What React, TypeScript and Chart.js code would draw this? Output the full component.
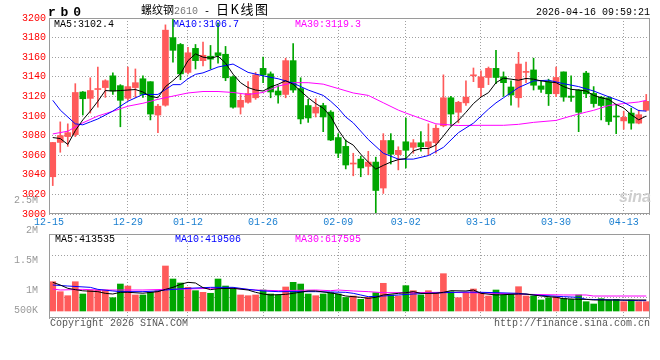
import React, { useEffect, useRef } from "react";
import { Chart, registerables } from "chart.js";

Chart.register(...registerables);

// ---------- data ----------
const OPEN = [
  3038, 3073, 3079, 3081, 3124.5, 3118, 3127, 3129, 3141, 3131,
  3118, 3129, 3138, 3135, 3101, 3111, 3180, 3173, 3144.5, 3169,
  3156.5, 3161, 3164.5, 3163, 3140, 3109, 3114, 3118.6, 3148.6, 3143,
  3125.5, 3122, 3156.5, 3128, 3110.7, 3103, 3110.7, 3104, 3078, 3069,
  3051, 3056, 3048.6, 3053, 3026.5, 3075, 3060.6, 3073.7, 3068, 3072.7,
  3068.6, 3072.7, 3090, 3118.6, 3103.8, 3113.4, 3141, 3129, 3139.3, 3148.6,
  3140, 3129.6, 3118.6, 3144.5, 3147, 3130.7, 3135, 3122.7, 3145, 3120.3,
  3126.5, 3143.8, 3123, 3119.3, 3118.6, 3100, 3095, 3103, 3092.7, 3105.8,
];
const HIGH = [
  3073, 3094, 3092, 3133, 3125, 3139, 3150, 3137, 3144, 3132,
  3150, 3148, 3141, 3135, 3112, 3193, 3199, 3174, 3170, 3173,
  3175.5, 3172, 3195, 3171, 3141, 3122, 3135, 3144.5, 3160, 3145,
  3131, 3159, 3174, 3139, 3117, 3117.6, 3113, 3105.5, 3082, 3075.5,
  3062, 3059, 3064, 3058, 3082, 3082, 3068.6, 3098, 3076, 3084,
  3092, 3091, 3142, 3120, 3115, 3136, 3149, 3146, 3150, 3167,
  3145, 3136, 3165, 3155, 3159, 3136, 3137.6, 3150, 3145, 3141,
  3127, 3145.5, 3130, 3120, 3120, 3112, 3105, 3108, 3106, 3122,
];
const LOW = [
  3029, 3063, 3069, 3079, 3101, 3103, 3109, 3119, 3122, 3089,
  3116, 3119, 3119, 3096, 3083, 3110, 3155, 3137, 3143, 3148,
  3151, 3148, 3154, 3136, 3108, 3102, 3113, 3117, 3134, 3118.6,
  3113, 3118.6, 3124, 3092, 3093.5, 3099, 3084, 3074.8, 3057.5, 3046,
  3039, 3038, 3040, 3001, 3021, 3051, 3045, 3047, 3062, 3064,
  3060, 3062, 3089, 3090, 3093, 3110.7, 3135, 3120, 3132, 3133,
  3120, 3111, 3109, 3134, 3126.5, 3124, 3110.7, 3119.6, 3115, 3115,
  3084, 3118.6, 3109, 3096, 3091, 3082, 3086.5, 3086.5, 3092, 3105,
];
const CLOSE = [
  3073, 3080, 3083, 3124, 3117.6, 3126, 3128, 3136, 3125.5, 3116,
  3130, 3134, 3122, 3102, 3110, 3187.6, 3167, 3143, 3164.5, 3156.5,
  3162, 3158, 3161.7, 3139, 3109, 3116, 3123, 3142, 3142, 3124.5,
  3121.4, 3156.5, 3126.5, 3097, 3098, 3109, 3099, 3075.5, 3062, 3050,
  3052, 3047, 3053, 3024, 3075, 3061, 3065, 3065, 3072.7, 3068.6,
  3073.7, 3087.5, 3118.6, 3102, 3114, 3119.3, 3142, 3140, 3148.6, 3139.3,
  3134, 3121.4, 3153, 3145.5, 3131.4, 3127.2, 3122.7, 3139.3, 3119.3, 3119,
  3103.8, 3122.7, 3112.7, 3110.7, 3094.4, 3099, 3098.6, 3092.7, 3101.3, 3115,
];
const VOLUME = [
  1150000, 985000, 919000, 1150000, 947000, 1013000, 1013000, 1013000, 886000, 1112000,
  1079000, 931000, 931000, 975000, 1002000, 1410000, 1195000, 1129000, 1057000, 1002000,
  975000, 959000, 1195000, 1079000, 1041000, 931000, 919000, 931000, 1013000, 947000,
  931000, 1063000, 1140000, 1112000, 947000, 919000, 947000, 970000, 947000, 890000,
  914000, 859000, 893000, 969000, 1124000, 931000, 914000, 1085000, 1002000, 931000,
  1002000, 959000, 1283000, 985000, 886000, 969000, 1030000, 969000, 914000, 1013000,
  931000, 947000, 1068000, 914000, 914000, 848000, 886000, 903000, 876000, 859000,
  931000, 820000, 782000, 870000, 848000, 859000, 820000, 848000, 820000, 820000,
];
const MA5 = [
  3078, 3077, 3071, 3085, 3096, 3105, 3115, 3126, 3125.5, 3126,
  3126.5, 3127, 3124.5, 3120, 3118.6, 3130, 3136, 3143, 3156.5, 3163.4,
  3160, 3159, 3161, 3154, 3142.7, 3134, 3129, 3126.5, 3125.5, 3129.6,
  3132.4, 3136, 3132.4, 3125.5, 3118.6, 3112.7, 3108, 3099.6, 3085.8, 3074.8,
  3070.3, 3061, 3053, 3045.8, 3049.6, 3053, 3055.5, 3056.5, 3064.4, 3066.8,
  3066.8, 3070.3, 3079.6, 3089.3, 3095.5, 3103.8, 3112.7, 3119.3, 3123.8, 3134,
  3138.6, 3137.6, 3136.5, 3138.3, 3137.6, 3135.8, 3134.8, 3134, 3130, 3127.2,
  3126.5, 3125.5, 3121, 3118.6, 3116.9, 3111.7, 3108.2, 3101.3, 3096.1, 3100,
];
const MA10: [number, number][] = [
  [0, 3116], [1, 3106], [3, 3092], [4, 3091], [5, 3094], [6, 3097], [8, 3105], [10, 3115],
  [12, 3122], [14, 3122], [15, 3127], [16, 3132], [17, 3132], [18, 3138], [19, 3142.5],
  [20, 3144], [22, 3150], [24, 3153], [26, 3144.5], [28, 3141], [30, 3138], [32, 3133.5],
  [34, 3126.5], [36, 3121], [37, 3115], [38, 3108], [39, 3099], [40, 3093], [42, 3076],
  [44, 3062], [46, 3056], [48, 3056], [50, 3059.6], [52, 3068], [54, 3083], [56, 3092.7],
  [58, 3107], [59, 3113.4], [60, 3118.6], [62, 3129], [64, 3135.8], [66, 3136.5], [68, 3133],
  [70, 3130], [72, 3125.5], [74, 3119.6], [76, 3114], [78, 3105.5], [79, 3105],
];
const MA30: [number, number][] = [
  [0, 3081.7], [2, 3084.5], [4, 3093], [6, 3100], [8, 3104.8], [10, 3110], [12, 3113],
  [14, 3117], [16, 3120.3], [18, 3123.5], [20, 3125], [22, 3125], [24, 3124], [26, 3122],
  [28, 3124], [30, 3130.5], [32, 3134], [34, 3134], [36, 3132.5], [38, 3128], [40, 3123.5],
  [42, 3121], [44, 3113.5], [46, 3106], [47, 3103], [49, 3097.5], [51, 3092], [54, 3090.3],
  [57, 3090.5], [60, 3090.5], [62, 3091.5], [64, 3093.5], [67, 3095.5], [69, 3100], [71, 3104],
  [72, 3105.8], [74, 3110.7], [76, 3112.7], [78, 3114.3], [79, 3116],
];
const VMA5: [number, number][] = [
  [0, 1140000], [1, 1096000], [2, 1041000], [3, 1019000], [4, 1000000], [6, 986000], [7, 958000],
  [8, 947000], [9, 975000], [10, 975000], [12, 960000], [14, 986000], [15, 1024000], [16, 1057000],
  [17, 1107000], [18, 1140000], [19, 1129000], [20, 1052000], [21, 1019000], [22, 1035000],
  [24, 1041000], [26, 1013000], [27, 975000], [28, 947000], [29, 931000], [31, 941000],
  [32, 958000], [34, 997000], [35, 997000], [37, 965000], [38, 945000], [39, 914000], [41, 892000],
  [42, 875000], [43, 892000], [44, 931000], [46, 958000], [47, 969000], [48, 986000], [49, 958000],
  [51, 958000], [52, 975000], [53, 1002000], [55, 997000], [56, 1013000], [57, 958000],
  [59, 931000], [62, 947000], [63, 947000], [65, 914000], [67, 892000], [68, 870000],
  [70, 859000], [71, 859000], [72, 848000], [75, 848000], [79, 848000],
];
const VMA10: [number, number][] = [
  [0, 1096000], [2, 1079000], [5, 1057000], [6, 1024000], [8, 997000], [9, 986000], [12, 986000],
  [14, 997000], [15, 1013000], [18, 1041000], [21, 1057000], [24, 1057000], [26, 1024000],
  [28, 997000], [30, 986000], [33, 986000], [35, 986000], [37, 980000], [39, 975000], [40, 958000],
  [41, 931000], [42, 903000], [44, 914000], [46, 931000], [48, 947000], [50, 958000], [52, 969000],
  [55, 980000], [57, 975000], [59, 969000], [62, 958000], [64, 931000], [68, 903000], [70, 892000],
  [71, 859000], [75, 848000], [78, 837000], [79, 837000],
];
const VMA30: [number, number][] = [
  [0, 1030000], [1, 1013000], [4, 1024000], [6, 1013000], [9, 1013000], [12, 1013000],
  [15, 1024000], [18, 1030000], [21, 1041000], [24, 1041000], [27, 1013000], [30, 1002000],
  [35, 1013000], [37, 1002000], [38, 1013000], [40, 997000], [42, 986000], [44, 969000],
  [48, 969000], [52, 975000], [55, 969000], [59, 958000], [63, 942000], [68, 931000],
  [71, 931000], [72, 914000], [75, 914000], [79, 914000],
];
const TICK_IDX = [0, 10, 18, 28, 38, 47, 57, 67, 76];
const TICK_LABELS = ["12-15", "12-29", "01-12", "01-26", "02-09", "03-02", "03-16", "03-30", "04-13"];
const PRICE_MIN = 3000;
const PRICE_MAX = 3200;
const PRICE_STEP = 20;
const VOL_TICKS = [2500000, 2000000, 1500000, 1000000, 500000];
const VOL_TICK_LABELS = ["2.5M", "2M", "1.5M", "1M", "500K"];
const VOL_MIN = 550400;
const VOL_MAX = 1938800;
const VOL_BASE = 666000;
const VOL_LABEL_FLOOR = 0.095; // lowest label kept inside the panel

// ---------- styling ----------
const MONO = "'Liberation Mono', 'DejaVu Sans Mono', monospace";
const UP = "#ff5a5a";
const DOWN = "#00a600";
const GRID = "#a0a0a0";
const FRAME = "#9a9a9a";

const framePlugin = {
  id: "frame",
  afterDatasetsDraw(chart: any) {
    const { ctx, chartArea: a } = chart;
    ctx.save();
    ctx.strokeStyle = FRAME;
    ctx.lineWidth = 1;
    ctx.setLineDash([]);
    ctx.strokeRect(
      Math.round(a.left) + 0.5,
      Math.round(a.top) + 0.5,
      Math.round(a.right - a.left) - 1,
      Math.round(a.bottom - a.top) - 1
    );
    ctx.restore();
  },
};

const dateTicks = (s: any) => {
  s.ticks = TICK_IDX.map((v, k) => ({ value: k === 0 ? s.min : v }));
};

const idx = OPEN.map((_, i) => i);
const colors = idx.map((i) => (CLOSE[i] >= OPEN[i] ? UP : DOWN));
const pairs = (arr: [number, number][]) => arr.map(([x, y]) => ({ x, y }));
const lineDs = (label: string, data: any[], color: string) => ({
  type: "line" as const,
  label,
  data,
  borderColor: color,
  borderWidth: 1,
  pointRadius: 0,
  tension: 0,
  order: 0,
});

function priceConfig(): any {
  return {
    type: "bar",
    data: {
      datasets: [
        lineDs("MA5", MA5.map((y, x) => ({ x, y })), "#000000"),
        lineDs("MA10", pairs(MA10), "#0000ff"),
        lineDs("MA30", pairs(MA30), "#ff00ff"),
        {
          type: "bar",
          label: "body",
          data: idx.map((i) => ({ x: i, y: [OPEN[i], CLOSE[i]] })),
          backgroundColor: colors,
          barThickness: 6,
          minBarLength: 1,
          grouped: false,
          order: 2,
        },
        {
          type: "bar",
          label: "wick",
          data: idx.map((i) => ({ x: i, y: [LOW[i], HIGH[i]] })),
          backgroundColor: colors,
          barThickness: 1,
          grouped: false,
          order: 3,
        },
      ],
    },
    options: {
      responsive: false,
      animation: false,
      devicePixelRatio: 1,
      layout: { padding: { left: 0, right: 10, top: 18, bottom: 0 } },
      plugins: { legend: { display: false }, tooltip: { enabled: false } },
      scales: {
        x: {
          type: "linear",
          min: -0.5,
          max: 79.5,
          bounds: "data",
          offset: false,
          afterBuildTicks: dateTicks,
          afterFit: (s: any) => {
            s.height = 20;
          },
          ticks: {
            autoSkip: false,
            maxRotation: 0,
            color: "#1a7fd0",
            font: { family: MONO, size: 10 },
            padding: 2,
            callback: (_v: any, k: number) => TICK_LABELS[k],
          },
          grid: { color: GRID, drawTicks: false, offset: false },
          border: { display: false, dash: [1, 2] },
        },
        y: {
          type: "linear",
          min: PRICE_MIN,
          max: PRICE_MAX,
          bounds: "data",
          afterFit: (s: any) => {
            s.width = 49;
          },
          ticks: {
            stepSize: PRICE_STEP,
            color: "#ff0000",
            font: { family: MONO, size: 10 },
            padding: 3,
            callback: (v: any) => String(v),
          },
          grid: { color: GRID, drawTicks: false },
          border: { display: false, dash: [1, 2] },
        },
      },
    },
    plugins: [framePlugin],
  };
}

function volumeConfig(): any {
  return {
    type: "bar",
    data: {
      datasets: [
        lineDs("VMA5", pairs(VMA5), "#000000"),
        lineDs("VMA10", pairs(VMA10), "#0000ff"),
        lineDs("VMA30", pairs(VMA30), "#ff00ff"),
        {
          type: "bar",
          label: "volume",
          data: idx.map((i) => ({ x: i, y: VOLUME[i] })),
          backgroundColor: colors,
          barThickness: 6,
          base: VOL_BASE,
          grouped: false,
          order: 2,
        },
      ],
    },
    options: {
      responsive: false,
      animation: false,
      devicePixelRatio: 1,
      layout: { padding: { left: 0, right: 10, top: 49, bottom: 42 } },
      plugins: { legend: { display: false }, tooltip: { enabled: false } },
      scales: {
        x: {
          type: "linear",
          min: -0.5,
          max: 79.5,
          bounds: "data",
          offset: false,
          afterBuildTicks: dateTicks,
          afterFit: (s: any) => {
            s.height = 0;
          },
          ticks: { display: false },
          grid: { color: GRID, drawTicks: false, offset: false },
          border: { display: false, dash: [1, 2] },
        },
        y: {
          type: "linear",
          position: "left",
          min: VOL_MIN,
          max: VOL_MAX,
          bounds: "data",
          afterBuildTicks: (s: any) => {
            const floor = s.min + (s.max - s.min) * VOL_LABEL_FLOOR;
            s.ticks = VOL_TICKS.map((v) => ({ value: Math.max(v, floor) }));
          },
          afterFit: (s: any) => {
            s.width = 49;
          },
          ticks: {
            autoSkip: false,
            color: "#999999",
            font: { family: MONO, size: 10 },
            padding: 3,
            callback: (_v: any, k: number) => VOL_TICK_LABELS[k],
          },
          grid: { display: false },
          border: { display: false },
        },
        yg: {
          type: "linear",
          position: "left",
          min: 0,
          max: 4,
          bounds: "data",
          afterFit: (s: any) => {
            s.width = 0;
          },
          ticks: { display: false, stepSize: 1 },
          grid: { color: GRID, drawTicks: false },
          border: { display: false, dash: [1, 2] },
        },
      },
    },
    plugins: [framePlugin],
  };
}

function T(props: {
  x: number;
  y: number;
  color?: string;
  size?: number;
  bold?: boolean;
  family?: string;
  style?: React.CSSProperties;
  children: React.ReactNode;
}) {
  const { x, y, color = "#000", size = 10, bold = false, family = MONO, style = {}, children } = props;
  return (
    <div
      style={{
        position: "absolute",
        left: x,
        top: y,
        color,
        fontSize: size,
        lineHeight: `${size}px`,
        fontFamily: family,
        fontWeight: bold ? "bold" : "normal",
        whiteSpace: "pre",
        ...style,
      }}
    >
      {children}
    </div>
  );
}

export default function App() {
  const refA = useRef<HTMLCanvasElement>(null);
  const refB = useRef<HTMLCanvasElement>(null);

  useEffect(() => {
    const c1 = new Chart(refA.current as HTMLCanvasElement, priceConfig());
    const c2 = new Chart(refB.current as HTMLCanvasElement, volumeConfig());
    return () => {
      c1.destroy();
      c2.destroy();
    };
  }, []);

  return (
    <div
      style={{
        position: "fixed",
        left: 0,
        top: 0,
        width: 660,
        height: 360,
        background: "#ffffff",
        overflow: "hidden",
      }}
    >
      <canvas
        ref={refA}
        width={660}
        height={234}
        style={{ position: "absolute", left: 0, top: 0, width: 660, height: 234 }}
      />
      <canvas
        ref={refB}
        width={660}
        height={175}
        style={{ position: "absolute", left: 0, top: 185, width: 660, height: 175 }}
      />
      <T x={48} y={6} size={13} bold style={{ letterSpacing: "4.8px" }}>
        rb0
      </T>
      <div
        style={{
          position: "absolute",
          left: 141,
          top: 2,
          whiteSpace: "pre",
          fontFamily: "'Noto Sans CJK SC', sans-serif",
          fontSize: 11,
          lineHeight: "14px",
          color: "#000",
        }}
      >
        <span>螺纹钢</span>
        <span style={{ color: "#777", fontFamily: MONO, fontSize: 10 }}>2610</span>
        <span style={{ fontFamily: MONO, fontSize: 10 }}> - </span>
        <span style={{ fontSize: 13, letterSpacing: "1.5px" }}>日K线图</span>
      </div>
      <T x={536} y={8}>
        2026-04-16 09:59:21
      </T>
      <T x={54} y={20}>MA5:3102.4</T>
      <T x={173} y={20} color="#0000ff">
        MA10:3106.7
      </T>
      <T x={295} y={20} color="#ff00ff">
        MA30:3119.3
      </T>
      <T x={55} y={235}>MA5:413535</T>
      <T x={175} y={235} color="#0000ff">
        MA10:419506
      </T>
      <T x={295} y={235} color="#ff00ff">
        MA30:617595
      </T>
      <T x={50} y={319} color="#555">
        Copyright 2026 SINA.COM
      </T>
      <T x={494} y={319} color="#555">
        http://finance.sina.com.cn
      </T>
      <T
        x={619}
        y={189}
        size={16}
        bold
        color="#cfcfcf"
        family="'Liberation Sans', Arial, sans-serif"
        style={{ fontStyle: "italic" }}
      >
        sina
      </T>
    </div>
  );
}
